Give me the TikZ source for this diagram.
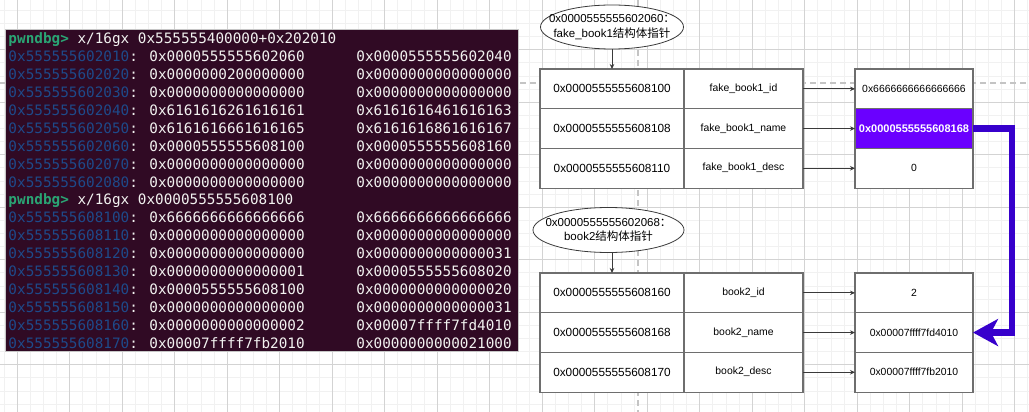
\documentclass[tikz,border=0pt]{standalone}
\usepackage{fontspec}
\setmainfont{Liberation Sans}
\newfontfamily\cjk{Noto Sans CJK SC}
\newfontfamily\termfont{DejaVu Sans Mono}
\usetikzlibrary{arrows.meta,positioning,calc,shapes.geometric}
\definecolor{termbg}{HTML}{300A24}
\definecolor{termgreen}{HTML}{2AA574}
\definecolor{termblue}{HTML}{1E4A8A}
\definecolor{termtext}{HTML}{F2F2F0}
\definecolor{gridmajor}{HTML}{D3D3D3}
\definecolor{gridminor}{HTML}{F1F1F1}
\definecolor{guide}{HTML}{C4C4C4}
\definecolor{violetfill}{HTML}{6A00FF}
\definecolor{violetline}{HTML}{3700CC}
\definecolor{cellline}{HTML}{6E6E6E}
\definecolor{arrowline}{HTML}{3A3A3A}
\newcommand\gaddr[1]{\textcolor{termblue}{#1}}
\newcommand\colgap{\ \ \ \ \ \ }

\begin{document}
\begin{tikzpicture}[x=1pt,y=-1pt,
  termline/.style={anchor=base west,inner sep=0pt,text=termtext,font=\termfont\fontsize{14.33}{17}\selectfont},
  cell/.style={draw=cellline,fill=white,line width=1.1pt,inner sep=0pt,outer sep=0pt,minimum height=39.7pt},
  addrcell/.style={cell,minimum width=144pt,font=\fontsize{11.8}{14}\selectfont},
  namecell/.style={cell,minimum width=119pt,font=\fontsize{10.4}{12}\selectfont},
  valcell/.style={cell,minimum width=118pt,font=\fontsize{10.4}{12}\selectfont},
  ptrnote/.style={ellipse,draw=arrowline,fill=white,line width=.8pt,inner sep=0pt,minimum width=143pt,minimum height=44pt},
  notetext/.style={align=center,inner sep=0pt,font=\fontsize{11.5}{14.3}\selectfont},
  thinarrow/.style={draw=arrowline,line width=.8pt,-{Stealth[length=5pt,width=4.5pt]}}
]
\useasboundingbox (0,0) rectangle (1029,412);
\fill[white] (0,0) rectangle (1029,412);

% grid
\foreach \i in {0,...,78}
  \draw[gridminor,line width=.9pt] ({4.175+13.125*\i},0) -- ++(0,412);
\foreach \i in {0,...,31}
  \draw[gridminor,line width=.9pt] (0,{10.425+13.125*\i}) -- ++(1029,0);
\foreach \i in {0,...,19}
  \draw[gridmajor,line width=.9pt] ({17.3+52.5*\i},0) -- ++(0,412);
\foreach \i in {0,...,6}
  \draw[gridmajor,line width=.9pt] (0,{49.8+52.5*\i}) -- ++(1029,0);

% guides
\draw[guide,line width=1.6pt,dash pattern=on 6pt off 4pt] (0,83) -- (1029,83);
\draw[guide,line width=1.6pt,dash pattern=on 6pt off 4pt] (638,0) -- (638,412);

% terminal
\draw[fill=termbg,draw=gray!45,line width=.8pt] (5,29) rectangle (518,351);
\node[termline] (ln1) at (8.3,43.80) {{\bfseries\color{termgreen}pwndbg>} x/16gx 0x555555400000+0x202010};
\node[termline] (ln2) at (8.3,61.71) {\gaddr{0x555555602010}: 0x0000555555602060\colgap 0x0000555555602040};
\node[termline] (ln3) at (8.3,79.62) {\gaddr{0x555555602020}: 0x0000000200000000\colgap 0x0000000000000000};
\node[termline] (ln4) at (8.3,97.53) {\gaddr{0x555555602030}: 0x0000000000000000\colgap 0x0000000000000000};
\node[termline] (ln5) at (8.3,115.44) {\gaddr{0x555555602040}: 0x6161616261616161\colgap 0x6161616461616163};
\node[termline] (ln6) at (8.3,133.35) {\gaddr{0x555555602050}: 0x6161616661616165\colgap 0x6161616861616167};
\node[termline] (ln7) at (8.3,151.26) {\gaddr{0x555555602060}: 0x0000555555608100\colgap 0x0000555555608160};
\node[termline] (ln8) at (8.3,169.17) {\gaddr{0x555555602070}: 0x0000000000000000\colgap 0x0000000000000000};
\node[termline] (ln9) at (8.3,187.08) {\gaddr{0x555555602080}: 0x0000000000000000\colgap 0x0000000000000000};
\node[termline] (ln10) at (8.3,204.99) {{\bfseries\color{termgreen}pwndbg>} x/16gx 0x0000555555608100};
\node[termline] (ln11) at (8.3,222.90) {\gaddr{0x555555608100}: 0x6666666666666666\colgap 0x6666666666666666};
\node[termline] (ln12) at (8.3,240.81) {\gaddr{0x555555608110}: 0x0000000000000000\colgap 0x0000000000000000};
\node[termline] (ln13) at (8.3,258.72) {\gaddr{0x555555608120}: 0x0000000000000000\colgap 0x0000000000000031};
\node[termline] (ln14) at (8.3,276.63) {\gaddr{0x555555608130}: 0x0000000000000001\colgap 0x0000555555608020};
\node[termline] (ln15) at (8.3,294.54) {\gaddr{0x555555608140}: 0x0000555555608100\colgap 0x0000000000000020};
\node[termline] (ln16) at (8.3,312.45) {\gaddr{0x555555608150}: 0x0000000000000000\colgap 0x0000000000000031};
\node[termline] (ln17) at (8.3,330.36) {\gaddr{0x555555608160}: 0x0000000000000002\colgap 0x00007ffff7fd4010};
\node[termline] (ln18) at (8.3,348.27) {\gaddr{0x555555608170}: 0x00007ffff7fb2010\colgap 0x0000000000021000};

% fake_book1
\node[ptrnote] (fk1ptr) at (612,27) {};
\node[notetext] (fk1txt) at (fk1ptr) {0x0000555555602060{\cjk ：}\\fake\_book1{\cjk 结构体指针}};
\node[addrcell] (fk1a1) at (612,88.85) {0x0000555555608100};
\node[addrcell,below=0pt of fk1a1] (fk1a2) {0x0000555555608108};
\node[addrcell,below=0pt of fk1a2] (fk1a3) {0x0000555555608110};
\node[namecell,right=0pt of fk1a1] (fk1n1) {fake\_book1\_id};
\node[namecell,right=0pt of fk1a2] (fk1n2) {fake\_book1\_name};
\node[namecell,right=0pt of fk1a3] (fk1n3) {fake\_book1\_desc};
\node[valcell,right=52pt of fk1n1] (fk1v1) {0x6666666666666666};
\node[valcell,right=52pt of fk1n2,fill=violetfill,text=white,font=\bfseries\fontsize{11}{13}\selectfont] (fk1v2) {0x0000555555608168};
\node[valcell,right=52pt of fk1n3] (fk1v3) {0};
\draw[thinarrow] (fk1ptr) -- (fk1a1);
\draw[thinarrow] (fk1n1) -- (fk1v1);
\draw[thinarrow] (fk1n2) -- (fk1v2);
\draw[thinarrow] (fk1n3) -- (fk1v3);

% book2
\node[ptrnote,minimum width=151pt,minimum height=45pt] (bk2ptr) at (608.5,230) {};
\node[notetext] (bk2txt) at (bk2ptr) {0x0000555555602068{\cjk ：}\\book2{\cjk 结构体指针}};
\node[addrcell] (bk2a1) at (612,292.85) {0x0000555555608160};
\node[addrcell,below=0pt of bk2a1] (bk2a2) {0x0000555555608168};
\node[addrcell,below=0pt of bk2a2] (bk2a3) {0x0000555555608170};
\node[namecell,right=0pt of bk2a1] (bk2n1) {book2\_id};
\node[namecell,right=0pt of bk2a2] (bk2n2) {book2\_name};
\node[namecell,right=0pt of bk2a3] (bk2n3) {book2\_desc};
\node[valcell,right=52pt of bk2n1] (bk2v1) {2};
\node[valcell,right=52pt of bk2n2] (bk2v2) {0x00007ffff7fd4010};
\node[valcell,right=52pt of bk2n3] (bk2v3) {0x00007ffff7fb2010};
\draw[thinarrow] (bk2ptr.south -| bk2a1.north) -- (bk2a1.north);
\draw[thinarrow] (bk2n1) -- (bk2v1);
\draw[thinarrow] (bk2n2) -- (bk2v2);
\draw[thinarrow] (bk2n3) -- (bk2v3);

% name pointer of fake_book1 to book2_name
\draw[violetline,line width=6.5pt,-{Stealth[length=25pt,width=27pt,inset=7pt]}]
  (fk1v2.east) -- ++(39,0) |- (bk2v2.east);
\end{tikzpicture}
\end{document}
